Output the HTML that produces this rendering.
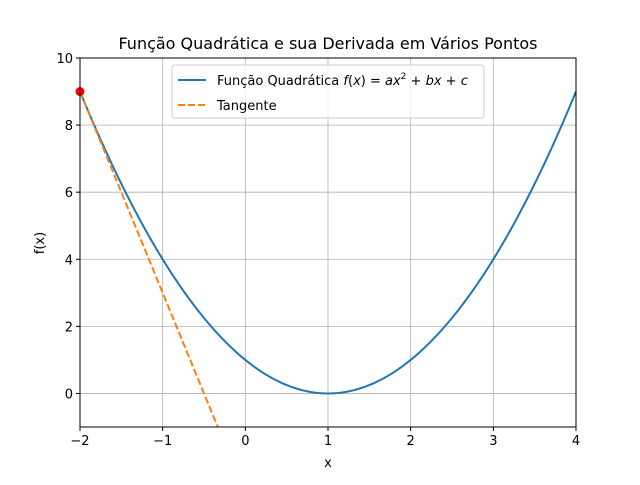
<!DOCTYPE html>
<html><head><meta charset="utf-8"><style>
body{margin:0;background:#fff;font-family:"Liberation Sans","DejaVu Sans",sans-serif;}
</style></head><body>
<svg id="chart" width="640" height="480" xmlns="http://www.w3.org/2000/svg" font-family="DejaVu Sans, Liberation Sans, sans-serif">
<rect width="640" height="480" fill="#fff"/>
<g id="grid"></g>
<g id="plot"></g>
<rect x="80" y="58" width="496" height="369" fill="none" stroke="#000" stroke-width="1"/>
<g id="ticks"></g>
<text x="328" y="49" text-anchor="middle" font-size="16">Função Quadrática e sua Derivada em Vários Pontos</text>
<text x="328" y="467" text-anchor="middle" font-size="13">x</text>
<text x="44" y="243" text-anchor="middle" font-size="13" transform="rotate(-90 44 243)">f(x)</text>
<g>
<rect x="172" y="65" width="312" height="53" rx="3" fill="#fff" fill-opacity="0.8" stroke="#ccc"/>
<line x1="178" y1="80" x2="206" y2="80" stroke="#1f77b4" stroke-width="2"/>
<text x="217" y="85" font-size="13">Função Quadrática <tspan font-style="italic">f</tspan>(<tspan font-style="italic">x</tspan>) = <tspan font-style="italic">ax</tspan><tspan font-size="9" dy="-6">2</tspan><tspan dy="6"> + </tspan><tspan font-style="italic">bx</tspan> + <tspan font-style="italic">c</tspan></text>
<line x1="178" y1="105" x2="206" y2="105" stroke="#ff7f0e" stroke-width="2" stroke-dasharray="7,3"/>
<text x="217" y="110" font-size="13">Tangente</text>
</g>
</svg>
<script>
const coeffs = [1, -2, 1];
const tangentPoint = [-2];
const xTicks = [-2, -1, 0, 1, 2, 3, 4];
const yTicks = [0, 2, 4, 6, 8, 10];
const xDomain = [-2, 4];
const yDomain = [-1, 10];
const NS = "http://www.w3.org/2000/svg";
const L = 80, R = 576, T = 58, B = 427;
const sx = x => L + (x - xDomain[0]) / (xDomain[1] - xDomain[0]) * (R - L);
const sy = y => B - (y - yDomain[0]) / (yDomain[1] - yDomain[0]) * (B - T);
const f = x => coeffs[0]*x*x + coeffs[1]*x + coeffs[2];
const df = x => 2*coeffs[0]*x + coeffs[1];
function mk(tag, attrs, parent) { const e = document.createElementNS(NS, tag); for (const k in attrs) e.setAttribute(k, attrs[k]); parent.appendChild(e); return e; }
const grid = document.getElementById('grid'), ticks = document.getElementById('ticks'), plot = document.getElementById('plot');
xTicks.forEach(v => {
  const g = mk('line', {x1: sx(v), x2: sx(v), y1: T, y2: B, stroke: '#b0b0b0', 'stroke-width': 0.8}, grid);
  
  
  const t = mk('line', {x1: sx(v), x2: sx(v), y1: B, y2: B + 4, stroke: '#000'}, ticks);
  
  
  const l = mk('text', {x: sx(v), y: B + 18, 'text-anchor': 'middle', 'font-size': 13}, ticks);
  l.textContent = v < 0 ? '\u2212' + Math.abs(v) : v;
  
  
});
yTicks.forEach(v => {
  const g = mk('line', {x1: L, x2: R, y1: sy(v), y2: sy(v), stroke: '#b0b0b0', 'stroke-width': 0.8}, grid);
  
  
  const t = mk('line', {x1: L - 4, x2: L, y1: sy(v), y2: sy(v), stroke: '#000'}, ticks);
  
  
  const l = mk('text', {x: L - 7, y: sy(v) + 5, 'text-anchor': 'end', 'font-size': 13}, ticks);
  l.textContent = v;
  
  
});
let d = '';
for (let i = 0; i <= 200; i++) { const x = xDomain[0] + (xDomain[1] - xDomain[0]) * i / 200; d += (i ? 'L' : 'M') + sx(x).toFixed(2) + ',' + sy(f(x)).toFixed(2); }
const curve = mk('path', {d, fill: 'none', stroke: '#1f77b4', 'stroke-width': 2}, plot);


tangentPoint.forEach(x0 => {
  const y0 = f(x0), m = df(x0);
  const x1 = x0 + (yDomain[0] - y0) / m;
  const tl = mk('line', {x1: sx(x0), y1: sy(y0), x2: sx(x1), y2: sy(yDomain[0]), stroke: '#ff7f0e', 'stroke-width': 2, 'stroke-dasharray': '7,3'}, plot);
  
  
  const p = mk('circle', {cx: sx(x0), cy: sy(y0), r: 4.5, fill: 'red'}, plot);
  
  
});
</script>
</body></html>
